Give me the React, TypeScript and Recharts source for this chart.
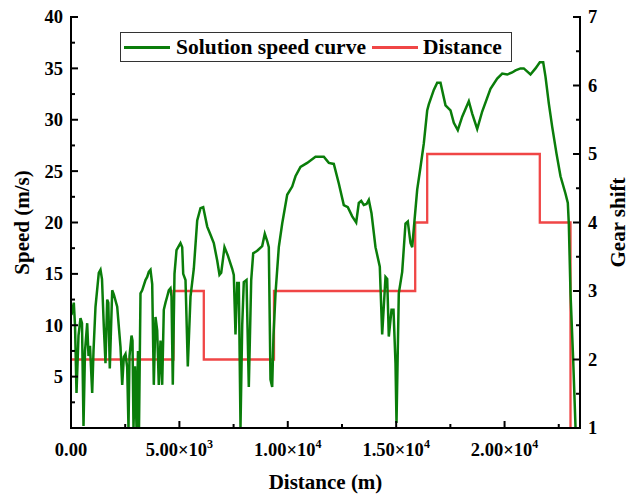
import { LineChart, Line, XAxis, YAxis, Legend } from "recharts";

// speed curve (distance in m, speed in m/s)
const SPEED_DISTANCE = [
  20, 129, 185, 254, 346, 438, 507, 577, 646, 747, 807, 876, 978, 1038, 1130, 1282, 1361, 1430,
  1513, 1591, 1670, 1721, 1790, 1901, 1974, 2131, 2283, 2362, 2436, 2514, 2592, 2652, 2699, 2791,
  2837, 2883, 2952, 3022, 3091, 3137, 3206, 3284, 3436, 3515, 3589, 3667, 3746, 3820, 3898, 3976,
  4050, 4129, 4207, 4281, 4359, 4438, 4511, 4590, 4636, 4696, 4774, 4867, 5051, 5130, 5176, 5282,
  5388, 5513, 5665, 5822, 5974, 6098, 6283, 6435, 6587, 6744, 6850, 6929, 7081, 7233, 7436, 7510,
  7588, 7667, 7741, 7819, 7898, 7971, 8096, 8202, 8313, 8405, 8557, 8617, 8820, 8940, 9051, 9125,
  9203, 9281, 9341, 9434, 9586, 9743, 9973, 10204, 10356, 10587, 10896, 11278, 11662, 11892,
  12123, 12354, 12584, 12769, 12972, 13156, 13276, 13387, 13507, 13632, 13737, 13862, 14046,
  14245, 14355, 14508, 14586, 14660, 14785, 14877, 14969, 15015, 15121, 15278, 15430, 15537,
  15661, 15740, 15846, 15970, 16123, 16275, 16431, 16505, 16736, 16893, 17045, 17276, 17506,
  17659, 17843, 18046, 18351, 18507, 18738, 18968, 19351, 19660, 19891, 20122, 20352, 20505,
  20735, 20887, 21196, 21427, 21626, 21782, 21888, 22041, 22198, 22396, 22581, 22812, 22918,
  22964, 23042, 23166, 23273,
];
const SPEED_VALUES = [
  11.0, 12.2, 10.0, 3.4, 9.0, 10.7, 10.2, 0.2, 7.5, 10.2, 7.0, 8.0, 3.4, 7.5, 11.8, 15.1, 15.4, 14.5,
  9.9, 6.3, 12.5, 12.2, 5.8, 13.4, 13.0, 11.8, 7.9, 4.2, 6.9, 7.2, 5.9, 0, 7.0, 9.0,
  8.5, 0, 6.0, 0, 7.5, 0, 13.1, 13.4, 14.4, 14.7, 15.2, 15.4, 14.0, 4.2, 10.8, 9.5,
  4.2, 8.5, 4.2, 11.5, 12.2, 12.8, 13.4, 13.6, 12.8, 4.2, 15.0, 17.3, 18.0, 17.6, 15.0, 14.4,
  6.0, 12.8, 15.5, 20.2, 21.4, 21.5, 19.6, 18.8, 18.0, 16.3, 14.9, 15.1, 17.6, 16.8, 15.5, 14.9,
  9.1, 14.1, 14.1, 0.1, 10.0, 14.2, 14.4, 4.0, 14.4, 17.0, 17.2, 17.3, 17.7, 18.9, 18.2, 17.6,
  4.7, 4.0, 9.0, 13.1, 17.6, 19.9, 22.7, 23.5, 24.5, 25.4, 25.8, 26.4, 26.4, 25.8,
  25.7, 23.8, 21.7, 21.5, 20.6, 20.0, 21.9, 22.1, 21.7, 21.8, 22.2, 20.9, 17.6,
  15.7, 9.1, 14.7, 14.5, 8.9, 11.5, 11.5, 6.3, 0.5, 13.1, 15.2, 19.9, 20.1,
  18.0, 17.6, 20.2, 23.2, 25.4, 27.7, 30.9, 31.5, 32.9, 33.6, 33.6, 31.4, 30.9,
  29.7, 29.0, 30.3, 31.8, 30.6, 29.1, 30.8, 33.0, 34.0, 34.5, 34.4, 34.6, 34.8,
  35.0, 35.0, 34.4, 35.0, 35.6, 35.6, 34.2, 31.6, 29.3, 26.7, 24.5, 22.8, 21.9,
  19.9, 13.1, 6.6, 0.1,
];

// gear steps (red line)
const GEAR_DISTANCE = [0, 4728, 6126, 9364, 15878, 16431, 21626, 23042];
const GEAR_VALUES = [2, 3, 2, 3, 4, 5, 4, 1];

const X_TICKS = [0, 2500, 5000, 7500, 10000, 12500, 15000, 17500, 20000, 22500];
const SPEED_TICKS = [0, 2.5, 5, 7.5, 10, 12.5, 15, 17.5, 20, 22.5, 25, 27.5, 30, 32.5, 35, 37.5, 40];
const GEAR_TICKS = [1, 1.5, 2, 2.5, 3, 3.5, 4, 4.5, 5, 5.5, 6, 6.5, 7];

const FONT = '"Liberation Serif", "Times New Roman", serif';
const GREEN = "#0a7d0a";
const RED = "#f04646";

const speedData = SPEED_DISTANCE.map((x, i) => ({ x, v: SPEED_VALUES[i] }));
const gearData = GEAR_DISTANCE.map((x, i) => ({ x, g: GEAR_VALUES[i] }));

const textStyle = { fontFamily: FONT, fontWeight: "bold" as const, fill: "#000" };

function BottomTick({ x, y, payload }: any) {
  const v = payload.value;
  const major = v % 5000 === 0;
  let label: any = null;
  if (major) {
    if (v === 0) {
      label = "0.00";
    } else {
      const exp = Math.floor(Math.log10(v));
      label = (
        <>
          <tspan>{(v / Math.pow(10, exp)).toFixed(2)}×10</tspan>
          <tspan dy={-8} fontSize={12}>{exp}</tspan>
        </>
      );
    }
  }
  return (
    <g>
      <line x1={x} y1={y} x2={x} y2={y - (major ? 7 : 4)} stroke="#000" strokeWidth={2} />
      {major && (
        <text x={x} y={y + 28} textAnchor="middle" fontSize={18.5} {...textStyle}>
          {label}
        </text>
      )}
    </g>
  );
}

function TopTick({ x, y, payload }: any) {
  const major = payload.value % 5000 === 0;
  return <line x1={x} y1={y} x2={x} y2={y + (major ? 7 : 4)} stroke="#000" strokeWidth={2} />;
}

function LeftTick({ x, y, payload }: any) {
  const v = payload.value;
  const major = v % 5 === 0;
  return (
    <g>
      <line x1={x} y1={y} x2={x + (major ? 7 : 4)} y2={y} stroke="#000" strokeWidth={2} />
      {major && v > 0 && (
        <text x={x - 8} y={y} dy="0.35em" textAnchor="end" fontSize={18.5} {...textStyle}>
          {v}
        </text>
      )}
    </g>
  );
}

function RightTick({ x, y, payload }: any) {
  const v = payload.value;
  const major = Number.isInteger(v);
  return (
    <g>
      <line x1={x} y1={y} x2={x - (major ? 7 : 4)} y2={y} stroke="#000" strokeWidth={2} />
      {major && (
        <text x={x + 8} y={y} dy="0.35em" textAnchor="start" fontSize={18.5} {...textStyle}>
          {v}
        </text>
      )}
    </g>
  );
}

function LegendBox() {
  const sample = (left: number, color: string) => (
    <span style={{ position: "absolute", left, top: 13, width: 46, height: 2.5, background: color }} />
  );
  const label = (left: number, text: string) => (
    <span style={{ position: "absolute", left, top: 2, lineHeight: "24px" }}>{text}</span>
  );
  return (
    <div
      style={{
        position: "relative",
        boxSizing: "border-box",
        width: 392,
        height: 30,
        border: "1px solid #333",
        background: "#fff",
        fontFamily: FONT,
        fontWeight: "bold",
        fontSize: 21.5,
        whiteSpace: "nowrap",
        color: "#000",
      }}
    >
      {sample(3, GREEN)}
      {label(55, "Solution speed curve")}
      {sample(251, RED)}
      {label(302, "Distance")}
    </div>
  );
}

export default function App() {
  return (
    <div style={{ position: "absolute", left: 0, top: 0, width: 637, height: 494, background: "#fff" }}>
      <LineChart width={637} height={494} margin={{ top: 17, right: 0, bottom: 0, left: 0 }}>
        <XAxis
          xAxisId="bottom"
          dataKey="x"
          type="number"
          domain={[0, 23480]}
          allowDataOverflow
          ticks={X_TICKS}
          interval={0}
          height={66}
          tickSize={0}
          tickMargin={0}
          tickLine={false}
          tick={<BottomTick />}
          axisLine={{ stroke: "#000", strokeWidth: 2, strokeLinecap: "square" }}
          label={{
            content: ({ viewBox }: any) => (
              <text x={viewBox.x + viewBox.width / 2} y={489} textAnchor="middle" fontSize={21} {...textStyle}>
                Distance (m)
              </text>
            ),
          }}
        />
        <XAxis
          xAxisId="top"
          orientation="top"
          dataKey="x"
          type="number"
          domain={[0, 23480]}
          allowDataOverflow
          ticks={X_TICKS}
          interval={0}
          height={0}
          tickSize={0}
          tickMargin={0}
          tickLine={false}
          tick={<TopTick />}
          axisLine={{ stroke: "#000", strokeWidth: 2, strokeLinecap: "square" }}
        />
        <YAxis
          yAxisId="speed"
          type="number"
          domain={[0, 40]}
          allowDataOverflow
          ticks={SPEED_TICKS}
          interval={0}
          width={71}
          tickSize={0}
          tickMargin={0}
          tickLine={false}
          tick={<LeftTick />}
          axisLine={{ stroke: "#000", strokeWidth: 2, strokeLinecap: "square" }}
          label={{
            content: ({ viewBox }: any) => {
              const cy = viewBox.y + viewBox.height / 2;
              return (
                <text x={22} y={cy} dy="0.35em" textAnchor="middle" fontSize={21} transform={`rotate(-90, 22, ${cy})`} {...textStyle}>
                  Speed (m/s)
                </text>
              );
            },
          }}
        />
        <YAxis
          yAxisId="gear"
          orientation="right"
          type="number"
          domain={[1, 7]}
          allowDataOverflow
          ticks={GEAR_TICKS}
          interval={0}
          width={57}
          tickSize={0}
          tickMargin={0}
          tickLine={false}
          tick={<RightTick />}
          axisLine={{ stroke: "#000", strokeWidth: 2, strokeLinecap: "square" }}
          label={{
            content: ({ viewBox }: any) => {
              const cy = viewBox.y + viewBox.height / 2;
              return (
                <text x={618} y={cy} dy="0.35em" textAnchor="middle" fontSize={21} transform={`rotate(-90, 618, ${cy})`} {...textStyle}>
                  Gear shift
                </text>
              );
            },
          }}
        />
        <Legend
          layout="horizontal"
          verticalAlign="middle"
          align="center"
          wrapperStyle={{ left: 120, top: 32, width: 392, height: 30 }}
          content={() => <LegendBox />}
        />
        <Line
          xAxisId="bottom"
          yAxisId="gear"
          data={gearData}
          dataKey="g"
          type="stepAfter"
          stroke={RED}
          strokeWidth={2.3}
          dot={false}
          isAnimationActive={false}
        />
        <Line
          xAxisId="bottom"
          yAxisId="speed"
          data={speedData}
          dataKey="v"
          type="linear"
          stroke={GREEN}
          strokeWidth={2.5}
          dot={false}
          isAnimationActive={false}
        />
      </LineChart>
    </div>
  );
}
